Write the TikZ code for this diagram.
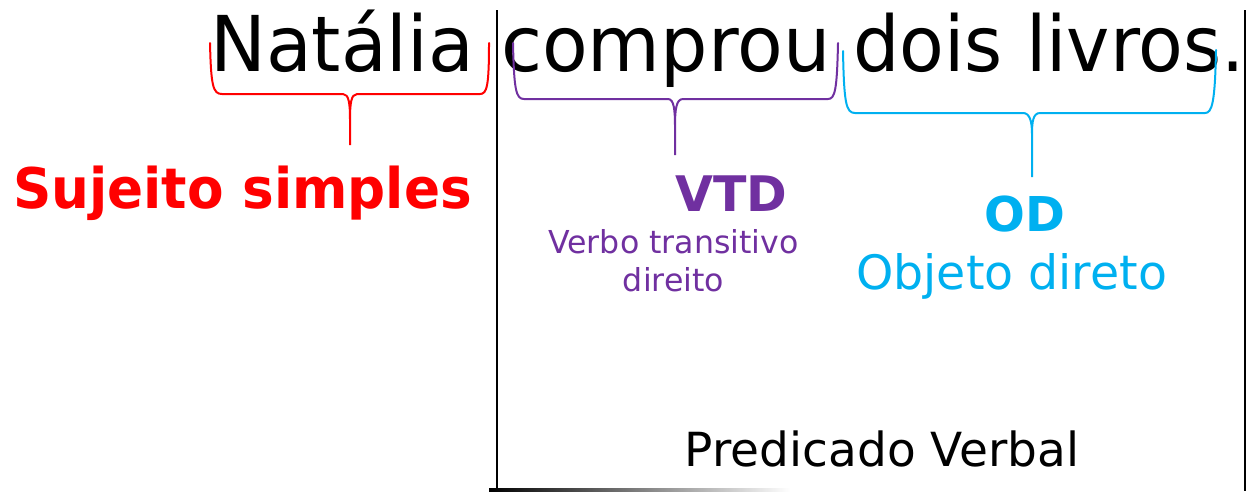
\documentclass[tikz,border=0pt]{standalone}
\usepackage{fontspec}
\setmainfont{DejaVu Sans}
\newfontfamily\narrowfont{DejaVu Sans}[FakeStretch=0.95]
\newfontfamily\wordfont{DejaVu Sans}[FakeStretch=0.97]
\usetikzlibrary{calc}

\definecolor{sujeitored}{RGB}{255,0,0}
\definecolor{vtdpurple}{RGB}{112,48,160}
\definecolor{odblue}{RGB}{0,176,240}

\begin{document}
\begin{tikzpicture}[
        x=1pt, y=-1pt,
        sentence/.style={inner sep=0pt, anchor=base west, font=\wordfont\fontsize{77}{80}\selectfont},
        tag/.style={inner sep=0pt, anchor=base},
        bracket/.style={line width=2pt, line cap=round},
        rule/.style={line width=2pt, black}
    ]
    \useasboundingbox (0,0) rectangle (1247,491);

    % sentence
    \node[sentence] (natalia) at (210,71) {Natália};
    \node[sentence] (comprou) at (501,71) {comprou};
    \node[sentence, font=\narrowfont\fontsize{77}{80}\selectfont] (livros) at (853,71) {dois livros.};

    % sujeito
    \draw[bracket, sujeitored]
        (210,43) .. controls (211,86) and (213,94) .. (222,94) --
        (343,94) .. controls (349,94) and (350,104) .. (350,120) --
        (350,145) --
        (350,120) .. controls (350,104) and (351,94) .. (357,94) --
        (480,94) .. controls (487,94) and (489,86) .. (489,43);
    \node[tag, text=sujeitored, font=\narrowfont\bfseries\fontsize{56}{60}\selectfont]
        (sujeito) at (242.5,208) {Sujeito simples};

    % verbo
    \draw[bracket, vtdpurple]
        (513,43) .. controls (514,90) and (516,99) .. (524,99) --
        (668,99) .. controls (674,99) and (675,110) .. (675,127) --
        (675,155) --
        (675,127) .. controls (675,110) and (676,99) .. (683,99) --
        (828,99) .. controls (835,99) and (837,90) .. (838,43);
    \node[tag, text=vtdpurple, font=\bfseries\fontsize{49}{52}\selectfont]
        (vtd) at (731.5,211.7) {VTD};
    \node[inner sep=0pt, anchor=north, align=center, text=vtdpurple,
          font=\fontsize{31.6}{37.5}\selectfont]
        (vtdtext) at (673.5,229.5) {Verbo transitivo\\direito};

    % objeto
    \draw[bracket, odblue]
        (843,51) .. controls (844,103) and (846,113) .. (855,113) --
        (1023,113) .. controls (1030,113) and (1032,122) .. (1032,134) --
        (1032,177) --
        (1032,134) .. controls (1032,122) and (1033,113) .. (1040,113) --
        (1205,113) .. controls (1212,113) and (1215,103) .. (1216,50);
    \node[tag, text=odblue, font=\bfseries\fontsize{48}{52}\selectfont]
        (od) at (1024.7,231.7) {OD};
    \node[tag, text=odblue, font=\fontsize{47.4}{50}\selectfont]
        (odtext) at (1011.7,289.3) {Objeto direto};

    % predicado
    \draw[rule] (497,10) -- (497,490);
    \draw[rule] (1245,10) -- (1245,491);
    \shade[left color=black, right color=white] (489,488) rectangle (790,491);
    \node[tag, font=\fontsize{47}{50}\selectfont]
        (predicado) at (882,466) {Predicado Verbal};

\end{tikzpicture}
\end{document}
